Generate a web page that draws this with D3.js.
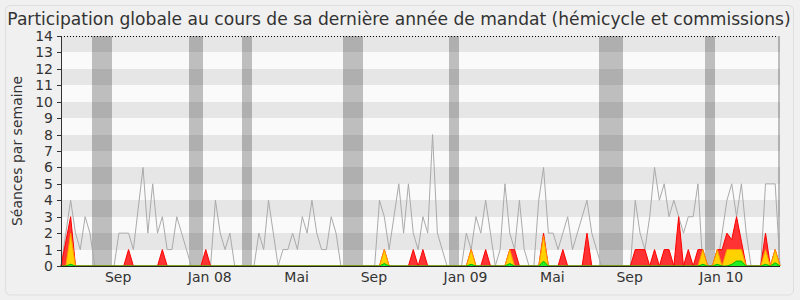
<!DOCTYPE html>
<html><head><meta charset="utf-8">
<script src="https://cdn.jsdelivr.net/npm/d3@7"></script>
<style>html,body{margin:0;padding:0;background:#f0f0f0;}svg{display:block;}</style>
</head><body>
<svg id="c" width="800" height="300"></svg>
<script>
// Weekly values (index = week)
const presences = [0,2,4,2,1,3,2,0,0,0, 0,0,2,2,2,1,3.5,6,2,5, 2,3,1,1,3,2,1,0,0,0,
  0,0,4,2,1,2,0,0,0,0, 0,2,1,4,2,0,1,1,2,1, 3,2,4,2,1,1,3,2,0,0,
  0,0,0,0,0,0,4,3,1,3, 5,2,5,2,1,3,2,8,2,1, 0,0,0,0,2,1,3,2,4,2,
  0,1,5,2,1,4,1,0,0,4, 6,2,2,1,2,3,1,2,3,4, 2,1,0,0,0,0,0,0,0,4,
  2,1,3,6,4,5,3,4,3,2, 3,3,5,0,0,0,0,2,4,5, 3,5,2,0,0,0,5,5,5,0];
const hemicycle = [0,1.5,3,0,0,0,0,0,0,0, 0,0,0,0,1,0,0,0,0,0, 0,1,0,0,0,0,0,0,0,0,
  1,0,0,0,0,0,0,0,0,0, 0,0,0,0,0,0,0,0,0,0, 0,0,0,0,0,0,0,0,0,0,
  0,0,0,0,0,0,0,1,0,0, 0,0,0,1,0,1,0,0,0,0, 0,0,0,0,0,1,0,0,1,0,
  0,0,0,1,1,0,0,0,0,0, 2,0,0,0,1,0,0,0,0,2, 0,0,0,0,0,0,0,0,0,1,
  1,1,0,1,0,1,1,0,3,0, 1,0,1,1,0,0,1,1,2,1.6, 3,1.5,0,0,0,0,2,0,1,0];
const interventions = [0,0,2,0,0,0,0,0,0,0, 0,0,0,0,0,0,0,0,0,0, 0,0,0,0,0,0,0,0,0,0,
  0,0,0,0,0,0,0,0,0,0, 0,0,0,0,0,0,0,0,0,0, 0,0,0,0,0,0,0,0,0,0,
  0,0,0,0,0,0,0,1,0,0, 0,0,0,0,0,0,0,0,0,0, 0,0,0,0,0,1,0,0,0,0,
  0,0,0,1,0,0,0,0,0,0, 1.8,0,0,0,0,0,0,0,0,0, 0,0,0,0,0,0,0,0,0,0,
  0,0,0,0,0,0,0,0,0,0, 0,0,0,1,0,0,1,0,1,1, 1,1,0,0,0,0,1,0,1,0];
const questions = [0,0,0.1,0,0,0,0,0,0,0, 0,0,0,0,0,0,0,0,0,0, 0,0,0,0,0,0,0,0,0,0,
  0,0,0,0,0,0,0,0,0,0, 0,0,0,0,0,0,0,0,0,0, 0,0,0,0,0,0,0,0,0,0,
  0,0,0,0,0,0,0,0.15,0,0, 0,0,0,0,0,0,0,0,0,0, 0,0,0,0,0,0.1,0,0,0,0,
  0,0,0,0.15,0,0,0,0,0,0, 0.3,0,0,0,0,0,0,0,0,0, 0,0,0,0,0,0,0,0,0,0,
  0,0,0,0,0,0,0,0,0,0, 0,0,0,0.1,0,0,0.1,0,0,0.1, 0.3,0.3,0,0,0,0,0.1,0,0.2,0];
const vacances = [7,8,9,10,27,28,29,38,39,59,60,61,62,81,82,112,113,114,115,116,134,135,149];
const tickWeeks = [12,31,49,65,84,102,118,137];
const tickLabels = ["Sep","Jan 08","Mai","Sep","Jan 09","Mai","Sep","Jan 10"];
const yTicks = d3.range(0,15);

const svg = d3.select("#c");
const F = "DejaVu Sans, sans-serif";
const x = d3.scaleLinear().domain([0, presences.length-1]).range([61,780]);
const y = d3.scaleLinear().domain([0,14]).range([266,36]);

// outer border
svg.append("rect").attr("x",5.5).attr("y",5.5).attr("width",788).attr("height",289.5)
  .attr("rx",5).attr("fill","#f0f0f0").attr("stroke","#dedede");

// plot background
svg.append("rect").attr("x",61).attr("y",36).attr("width",719).attr("height",230).attr("fill","#fafafa");

// vacation bands: merge consecutive weeks into runs
const runs = [];
vacances.forEach(w=>{
  const last = runs[runs.length-1];
  if (last && last[1] === w-1) last[1] = w; else runs.push([w,w]);
});
svg.append("g").attr("shape-rendering","crispEdges").selectAll("rect").data(runs).join("rect")
  .attr("x", d=>Math.round(Math.max(61, x(d[0]-0.5))))
  .attr("width", d=>Math.round(Math.min(780, x(d[1]+0.5))) - Math.round(Math.max(61, x(d[0]-0.5))))
  .attr("y",36).attr("height",230).attr("fill","#bebebe");

// stripes
svg.append("g").attr("shape-rendering","crispEdges").selectAll("rect").data(d3.range(7)).join("rect")
  .attr("x",61).attr("width",719)
  .attr("y", k=>Math.round(y(2*k+2))).attr("height", k=>Math.round(y(2*k+1))-Math.round(y(2*k+2)))
  .attr("fill","#000").attr("fill-opacity",0.08);

// presence line
const line = d3.line().x((d,i)=>x(i)).y(d=>y(d));
svg.append("path").datum(presences).attr("d",line).attr("fill","none")
  .attr("stroke","#aaaaaa").attr("stroke-width",1);

const area = d3.area().x((d,i)=>x(i)).y0(y(0)).y1(d=>y(d));
const series = [
  {v:hemicycle, fill:"#ff3333", stroke:"#ff0000"},
  {v:interventions, fill:"#ffd200", stroke:"#ff9900"},
  {v:questions, fill:"#22ee22", stroke:"#00bb00"}
];
series.forEach(s=>{
  svg.append("path").datum(s.v).attr("d",area).attr("fill",s.fill);
  svg.append("path").datum(s.v).attr("d",line).attr("fill","none").attr("stroke",s.stroke).attr("stroke-width",1);
});

// top dotted line
svg.append("line").attr("x1",61).attr("x2",778).attr("y1",36.5).attr("y2",36.5)
  .attr("stroke","#000").attr("stroke-dasharray","1,2");

// axes
svg.append("line").attr("x1",61.5).attr("x2",61.5).attr("y1",36).attr("y2",267).attr("stroke","#333");
svg.append("line").attr("x1",61).attr("x2",780).attr("y1",266.5).attr("y2",266.5).attr("stroke","#222");

const yt = svg.append("g");
yt.selectAll("line").data(yTicks).join("line")
  .attr("x1",57).attr("x2",61).attr("y1",d=>Math.round(y(d))+0.5).attr("y2",d=>Math.round(y(d))+0.5)
  .attr("stroke","#333");
yt.selectAll("text").data(yTicks).join("text")
  .attr("x",53).attr("y",d=>y(d)).attr("dy","0.36em").attr("text-anchor","end")
  .attr("font-family",F).attr("font-size",14).attr("fill","#333").text(d=>d);

svg.append("g").selectAll("text").data(tickWeeks).join("text")
  .attr("x",(d)=>x(d)-0.8).attr("y",282).attr("text-anchor","middle")
  .attr("font-family",F).attr("font-size",14).attr("fill","#333")
  .text((d,i)=>tickLabels[i]);

svg.append("text").attr("transform","translate(22,151) rotate(-90)").attr("text-anchor","middle")
  .attr("font-family",F).attr("font-size",14).attr("fill","#333").text("Séances par semaine");

svg.append("text").attr("x",399).attr("y",25).attr("text-anchor","middle")
  .attr("font-family",F).attr("font-size",17.1).attr("fill","#333")
  .text("Participation globale au cours de sa dernière année de mandat (hémicycle et commissions)");
</script>
</body></html>
